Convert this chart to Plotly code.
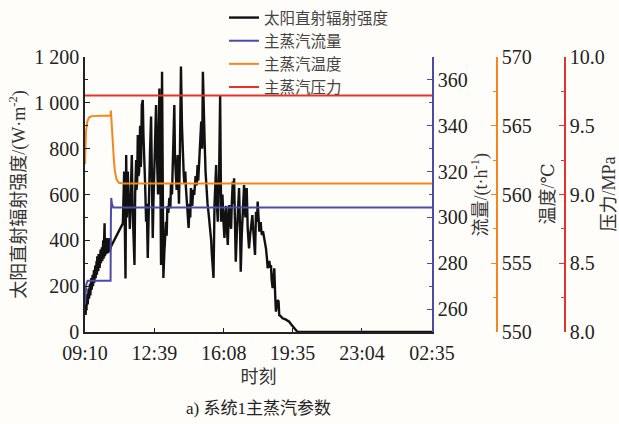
import plotly.graph_objects as go

# ---- data ----
tick_labels = ["09:10", "12:39", "16:08", "19:35", "23:04", "02:35"]

# solar direct normal irradiance: (minutes after 09:10, W/m2)
dni_pairs = [
    (0, 80), (1, 120), (2, 75), (3, 140), (4, 95), (5, 150), (6, 110), (7, 165), (8, 120), (9, 175),
    (10, 130), (11, 190), (12, 145), (13, 200), (14, 150), (15, 210), (16, 160), (17, 225), (18, 170),
    (19, 235), (20, 185), (21, 240), (22, 190), (23, 250), (24, 200), (25, 265), (26, 210), (27, 270),
    (28, 215), (29, 280), (30, 220), (31, 290), (32, 235), (33, 300), (34, 245), (35, 310), (36, 250),
    (37, 330), (38, 260), (39, 320), (40, 265), (41, 340), (42, 275), (43, 330), (44, 280), (45, 345),
    (46, 290), (47, 360), (48, 300), (49, 350), (50, 305), (51, 370), (52, 310), (53, 380), (54, 315),
    (55, 400), (56, 320), (57, 420), (58, 330), (59, 474), (60, 330), (61, 400), (62, 335), (63, 390),
    (64, 340), (65, 400), (66, 345), (67, 410), (68, 350), (69, 395), (70, 345), (71, 405), (72, 350),
    (73, 400), (74, 355), (75, 410), (76, 360), (78, 372), (114, 474), (116, 600), (118, 700),
    (120, 450), (122, 234), (124, 772), (126, 500), (128, 650), (129, 700), (131, 560), (132, 600),
    (135, 450), (138, 650), (141, 772), (143, 560), (144, 500), (147, 380), (149, 292), (151, 600),
    (154, 750), (155, 620), (157, 650), (159, 860), (161, 680), (163, 700), (166, 900), (168, 720),
    (169, 750), (171, 990), (174, 1012), (176, 860), (178, 800), (181, 650), (184, 481), (186, 560),
    (189, 323), (191, 520), (193, 600), (196, 800), (199, 940), (201, 760), (202, 700), (204, 410),
    (206, 560), (208, 650), (211, 800), (214, 990), (217, 750), (219, 680), (220, 600), (222, 850),
    (224, 1063), (227, 700), (229, 292), (232, 1136), (234, 600), (236, 236), (239, 350), (241, 400),
    (244, 481), (246, 420), (248, 550), (251, 520), (254, 585), (257, 540), (259, 650), (262, 600),
    (264, 729), (267, 820), (269, 990), (271, 760), (274, 700), (276, 620), (279, 772), (281, 640),
    (283, 560), (286, 800), (289, 1158), (292, 900), (294, 772), (297, 700), (299, 650), (302, 700),
    (304, 628), (306, 580), (308, 550), (310, 500), (312, 454), (314, 520), (315, 560), (317, 500),
    (319, 628), (321, 580), (323, 550), (326, 620), (329, 598), (331, 640), (333, 680), (336, 640),
    (339, 729), (341, 660), (342, 690), (345, 743), (348, 820), (350, 918), (352, 820), (353, 800),
    (355, 1136), (358, 900), (360, 845), (363, 700), (365, 628), (367, 600), (369, 560), (372, 520),
    (375, 481), (377, 440), (380, 400), (382, 340), (384, 300), (387, 236), (390, 554), (392, 640),
    (395, 729), (397, 560), (400, 481), (402, 600), (404, 700), (407, 1034), (410, 481), (412, 560),
    (414, 600), (417, 480), (420, 410), (422, 500), (425, 550), (427, 460), (430, 380), (432, 470),
    (434, 554), (437, 500), (440, 450), (442, 560), (445, 656), (447, 560), (449, 671), (452, 450),
    (454, 307), (457, 420), (459, 500), (462, 580), (464, 628), (467, 450), (469, 263), (472, 420),
    (474, 500), (477, 580), (479, 641), (481, 560), (483, 500), (485, 580), (487, 628), (490, 450),
    (492, 400), (494, 365), (497, 420), (499, 450), (502, 480), (504, 510), (506, 460), (508, 420),
    (510, 380), (512, 336), (515, 525), (518, 480), (520, 569), (522, 500), (525, 438), (527, 470),
    (529, 480), (531, 440), (533, 423), (536, 440), (540, 410), (543, 390), (545, 365), (548, 320),
    (550, 278), (553, 300), (555, 310), (558, 280), (560, 292), (562, 230), (565, 191), (568, 240),
    (570, 278), (573, 150), (575, 89), (577, 110), (579, 120), (581, 140), (583, 132), (585, 74),
    (590, 68), (595, 60), (604, 55), (610, 50), (615, 45), (620, 35), (625, 27), (630, 18), (635, 9),
    (640, 0), (1045, 0),
]
dni_t = [p[0] for p in dni_pairs]
dni_v = [p[1] for p in dni_pairs]

# main steam flow, t/h
flow_t = [0, 2, 4, 8, 77, 78, 79, 81, 85, 1045]
flow_v = [262, 268, 271, 272.4, 272.4, 300, 308.5, 306, 304.3, 304.3]

# main steam temperature, degC
temp_t = [0, 1, 3, 7, 12, 20, 75, 77, 78, 79, 81, 84, 87, 90, 95, 102, 115, 1045]
temp_v = [562.2, 563.5, 564.6, 565.3, 565.6, 565.7, 565.7, 565.75, 566.1, 565.6, 564.8,
          563.6, 562.5, 561.7, 561.1, 560.85, 560.8, 560.8]

# main steam pressure, MPa
pres_t = [0, 1045]
pres_v = [9.72, 9.72]

names = ["太阳直射辐射强度", "主蒸汽流量", "主蒸汽温度", "主蒸汽压力"]
right_titles = ["流量/(t·h<sup>-1</sup>)", "温度/℃", "压力/MPa"]


def to_min(s):
    h, m = map(int, s.split(":"))
    v = h * 60 + m - (9 * 60 + 10)
    if v < 0:
        v += 1440
    return v


tick_vals = [to_min(s) for s in tick_labels]

C_BLACK = "#111111"
C_BLUE = "#4b4ca6"
C_ORANGE = "#f5861f"
C_RED = "#e5322b"
FONT = "Liberation Serif, DejaVu Serif, Noto Sans CJK SC, serif"
BG = "#fffdf9"

fig = go.Figure()
fig.add_trace(go.Scatter(x=dni_t, y=dni_v, name=names[0], mode="lines",
                         line=dict(color=C_BLACK, width=2.4), yaxis="y"))
fig.add_trace(go.Scatter(x=flow_t, y=flow_v, name=names[1], mode="lines",
                         line=dict(color=C_BLUE, width=2), yaxis="y2"))
fig.add_trace(go.Scatter(x=temp_t, y=temp_v, name=names[2], mode="lines",
                         line=dict(color=C_ORANGE, width=2), yaxis="y3"))
fig.add_trace(go.Scatter(x=pres_t, y=pres_v, name=names[3], mode="lines",
                         line=dict(color=C_RED, width=2), yaxis="y4"))

L, R, T, B = 85, 0, 57, 92
W, H = 619, 424
pw = W - L - R
ph = H - T - B
xr = 347 / pw
pos_temp = (497 - L) / pw
pos_pres = (565 - L) / pw
title_px = [480, 547, 608]

tickfont = dict(family=FONT, size=20, color="#222222")
titlefont = dict(family=FONT, size=18, color="#333333")

annotations = [dict(text="a) 系统1主蒸汽参数", x=xr / 2, y=-(408 - (H - B)) / ph,
                    xref="paper", yref="paper", showarrow=False, xanchor="center", yanchor="middle",
                    font=dict(family=FONT, size=17, color="#222222"))]
for txt, px in zip(right_titles, title_px):
    annotations.append(dict(text=txt, x=(px - L) / pw, y=0.5, xref="paper", yref="paper",
                            showarrow=False, textangle=-90, xanchor="center", yanchor="middle",
                            font=titlefont))

fig.update_layout(
    width=W, height=H,
    margin=dict(l=L, r=R, t=T, b=B, autoexpand=False),
    paper_bgcolor=BG, plot_bgcolor=BG,
    font=dict(family=FONT, size=18, color="#222222"),
    showlegend=True,
    legend=dict(x=(224 - L) / pw, y=1 + (T - 1) / ph, xanchor="left", yanchor="top",
                bgcolor="rgba(0,0,0,0)", font=dict(family=FONT, size=15.5, color="#444444"),
                tracegroupgap=0, itemwidth=30),
    xaxis=dict(domain=[0, xr], range=[0, 1045], tickvals=tick_vals, ticktext=tick_labels,
               ticks="inside", ticklen=4, tickcolor="#222222", showline=True, linecolor="#222222",
               linewidth=1.5, showgrid=False, zeroline=False, tickfont=tickfont,
               ticklabelstandoff=2,
               title=dict(text="时刻", font=titlefont, standoff=8)),
    yaxis=dict(range=[0, 1200], tickvals=[0, 200, 400, 600, 800, 1000, 1200],
               ticktext=["0", "200", "400", "600", "800", "1 000", "1 200"],
               ticks="inside", ticklen=5, tickcolor="#222222", showline=True, linecolor="#222222",
               linewidth=1.5, showgrid=False, zeroline=False, tickfont=tickfont,
               minor=dict(ticks="inside", dtick=100, ticklen=3, tickcolor="#222222"),
               title=dict(text="太阳直射辐射强度/(W·m<sup>-2</sup>)", font=titlefont, standoff=4)),
    yaxis2=dict(overlaying="y", anchor="x", side="right", range=[250, 370],
                tickvals=[260, 280, 300, 320, 340, 360], ticks="inside", ticklen=5, tickcolor=C_BLUE,
                showline=True, linecolor=C_BLUE, linewidth=1.5, showgrid=False, zeroline=False,
                tickfont=tickfont, minor=dict(ticks="inside", dtick=10, ticklen=3, tickcolor=C_BLUE)),
    yaxis3=dict(overlaying="y", anchor="free", position=pos_temp, side="right", range=[550, 570],
                tickvals=[550, 555, 560, 565, 570], ticks="inside", ticklen=5, tickcolor=C_ORANGE,
                showline=True, linecolor=C_ORANGE, linewidth=1.5, showgrid=False, zeroline=False,
                tickfont=tickfont, minor=dict(ticks="inside", dtick=2.5, ticklen=3, tickcolor=C_ORANGE)),
    yaxis4=dict(overlaying="y", anchor="free", position=pos_pres, side="right", range=[8, 10],
                tickvals=[8, 8.5, 9, 9.5, 10], tickformat=".1f", ticks="inside", ticklen=5,
                tickcolor=C_RED, showline=True, linecolor=C_RED, linewidth=1.5, showgrid=False,
                zeroline=False, tickfont=tickfont,
                minor=dict(ticks="inside", dtick=0.25, ticklen=3, tickcolor=C_RED)),
    annotations=annotations,
)

fig.write_html("out.html")
